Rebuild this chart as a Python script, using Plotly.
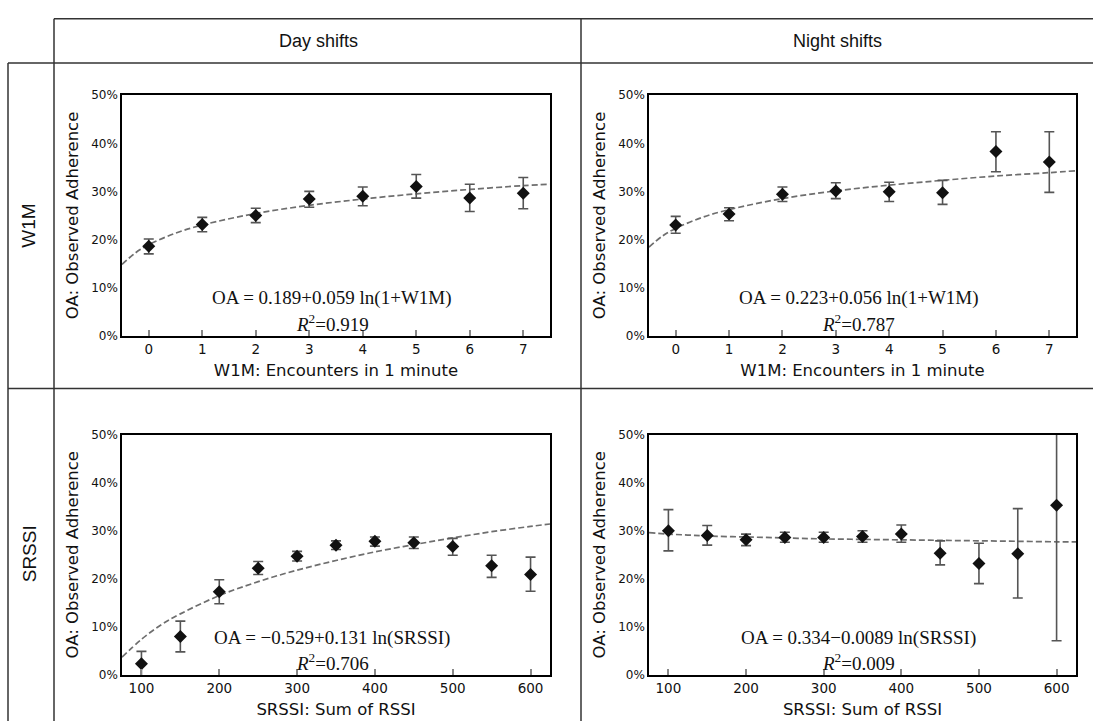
import plotly.graph_objects as go

# ---------------- data ----------------
w1m_x = [0, 1, 2, 3, 4, 5, 6, 7]
day_w1m_y = [0.186, 0.231, 0.250, 0.284, 0.290, 0.310, 0.286, 0.296]
day_w1m_hi = [0.201, 0.246, 0.265, 0.300, 0.309, 0.335, 0.315, 0.329]
day_w1m_lo = [0.170, 0.216, 0.235, 0.267, 0.270, 0.286, 0.258, 0.264]

night_w1m_y = [0.230, 0.253, 0.294, 0.301, 0.299, 0.297, 0.383, 0.361]
night_w1m_hi = [0.248, 0.266, 0.309, 0.318, 0.319, 0.323, 0.424, 0.424]
night_w1m_lo = [0.213, 0.239, 0.279, 0.285, 0.279, 0.273, 0.341, 0.298]

srssi_x = [100, 150, 200, 250, 300, 350, 400, 450, 500, 550, 600]
day_srssi_y = [0.023, 0.080, 0.173, 0.222, 0.247, 0.270, 0.278, 0.275, 0.267, 0.227, 0.209]
day_srssi_hi = [0.049, 0.112, 0.198, 0.236, 0.257, 0.279, 0.287, 0.287, 0.284, 0.249, 0.245]
day_srssi_lo = [-0.005, 0.048, 0.148, 0.209, 0.237, 0.261, 0.268, 0.263, 0.249, 0.203, 0.174]

night_srssi_y = [0.300, 0.290, 0.281, 0.286, 0.286, 0.288, 0.293, 0.253, 0.232, 0.252, 0.353]
night_srssi_hi = [0.344, 0.311, 0.293, 0.297, 0.297, 0.300, 0.312, 0.279, 0.274, 0.346, 0.640]
night_srssi_lo = [0.258, 0.270, 0.269, 0.276, 0.276, 0.276, 0.276, 0.229, 0.190, 0.160, 0.071]

# dashed fitted curves
fit_w1m_x = [-0.5, -0.25, 0, 0.5, 1, 2, 3, 4, 5, 6, 7, 7.5]
fit_day_w1m_y = [0.148, 0.172, 0.189, 0.213, 0.230, 0.254, 0.271, 0.284, 0.295, 0.304, 0.312, 0.315]
fit_night_w1m_y = [0.184, 0.207, 0.223, 0.246, 0.262, 0.285, 0.301, 0.313, 0.323, 0.332, 0.339, 0.343]

fit_srssi_x = [75, 100, 125, 150, 200, 250, 300, 350, 400, 450, 500, 550, 600, 625]
fit_day_srssi_y = [0.037, 0.074, 0.104, 0.127, 0.165, 0.194, 0.218, 0.238, 0.256, 0.271,
                   0.285, 0.298, 0.309, 0.314]
fit_night_srssi_y = [0.296, 0.293, 0.291, 0.289, 0.287, 0.285, 0.283, 0.282, 0.281, 0.280,
                     0.279, 0.278, 0.277, 0.277]

eq_texts = [
    "OA = 0.189+0.059 ln(1+W1M)",
    "OA = 0.223+0.056 ln(1+W1M)",
    "OA = \u22120.529+0.131 ln(SRSSI)",
    "OA = 0.334\u22120.0089 ln(SRSSI)",
]
r2_texts = ["0.919", "0.787", "0.706", "0.009"]

col_titles = ["Day shifts", "Night shifts"]
row_titles = ["W1M", "SRSSI"]
w1m_ticks = [0, 1, 2, 3, 4, 5, 6, 7]
srssi_ticks = [100, 200, 300, 400, 500, 600]
y_ticks = [0, 0.1, 0.2, 0.3, 0.4, 0.5]
y_tick_labels = ["0%", "10%", "20%", "30%", "40%", "50%"]
w1m_title = "W1M: Encounters in 1 minute"
srssi_title = "SRSSI: Sum of RSSI"
y_title = "OA: Observed Adherence"

# ---------------- layout geometry (pixels) ----------------
W, H = 1093, 728


def px(x):
    return x / W


def py(y):
    return 1 - y / H


panels = [
    # (axis index, x0, x1, y0(top), y1(bottom))
    (1, 122, 550, 90, 335),
    (2, 649, 1076, 90, 335),
    (3, 122, 550, 436, 681),
    (4, 649, 1076, 436, 681),
]

series = [
    (w1m_x, day_w1m_y, day_w1m_hi, day_w1m_lo, fit_w1m_x, fit_day_w1m_y),
    (w1m_x, night_w1m_y, night_w1m_hi, night_w1m_lo, fit_w1m_x, fit_night_w1m_y),
    (srssi_x, day_srssi_y, day_srssi_hi, day_srssi_lo, fit_srssi_x, fit_day_srssi_y),
    (srssi_x, night_srssi_y, night_srssi_hi, night_srssi_lo, fit_srssi_x, fit_night_srssi_y),
]

fig = go.Figure()
layout = dict(
    width=W, height=H, autosize=False,
    margin=dict(l=0, r=0, t=0, b=0),
    paper_bgcolor="white", plot_bgcolor="white",
    showlegend=False,
    font=dict(family="DejaVu Sans", color="#111"),
)

annotations = []
for (i, x0, x1, y0, y1), (xs, ys, hi, lo, fx, fy) in zip(panels, series):
    xa = "x" if i == 1 else f"x{i}"
    ya = "y" if i == 1 else f"y{i}"
    fig.add_trace(go.Scatter(
        x=fx, y=fy, mode="lines", xaxis=xa, yaxis=ya,
        line=dict(color="#6e6e6e", width=1.7, dash="6px,3px", shape="spline"),
        hoverinfo="skip"))
    fig.add_trace(go.Scatter(
        x=xs, y=ys, mode="markers", xaxis=xa, yaxis=ya,
        marker=dict(symbol="diamond", size=10, color="#111"),
        error_y=dict(type="data", symmetric=False,
                     array=[h - v for h, v in zip(hi, ys)],
                     arrayminus=[v - l for v, l in zip(ys, lo)],
                     color="#555", thickness=1.6, width=5)))
    is_w1m = i in (1, 2)
    xkey = "xaxis" if i == 1 else f"xaxis{i}"
    ykey = "yaxis" if i == 1 else f"yaxis{i}"
    layout[xkey] = dict(
        domain=[px(x0), px(x1)], anchor=ya,
        range=[-0.5, 7.5] if is_w1m else [75, 625],
        tickvals=w1m_ticks if is_w1m else srssi_ticks,
        ticks="inside", ticklen=6, tickwidth=1.5, tickcolor="#888",
        showgrid=False, zeroline=False,
        showline=True, mirror=True, linecolor="#000", linewidth=1.6,
        tickfont=dict(family="DejaVu Sans", size=13.5, color="#111"),
        title=dict(text=w1m_title if is_w1m else srssi_title,
                   font=dict(family="DejaVu Sans", size=16.5, color="#111"),
                   standoff=9),
    )
    layout[ykey] = dict(
        domain=[py(y1), py(y0)], anchor=xa,
        range=[0, 0.5], tickvals=y_ticks, ticktext=y_tick_labels,
        ticks="", showgrid=False, zeroline=False,
        showline=True, mirror=True, linecolor="#000", linewidth=1.6,
        tickfont=dict(family="DejaVu Sans", size=12, color="#111"),
        title=dict(text=y_title,
                   font=dict(family="DejaVu Sans", size=16.5, color="#111"),
                   standoff=8),
    )
    cx = (x0 + x1) / 2 - 4
    annotations.append(dict(
        x=px(cx), y=py(y1 - 38), xref="paper", yref="paper",
        xanchor="center", yanchor="middle",
        text=eq_texts[i - 1], showarrow=False,
        font=dict(family="Liberation Serif", size=19, color="#111")))
    annotations.append(dict(
        x=px(cx), y=py(y1 - 13), xref="paper", yref="paper",
        xanchor="center", yanchor="middle",
        text="<i>R</i><sup>2</sup>=" + r2_texts[i - 1], showarrow=False,
        font=dict(family="Liberation Serif", size=19, color="#111")))

# column / row headers
for t, cx in zip(col_titles, [318, 837]):
    annotations.append(dict(x=px(cx), y=py(35), xref="paper", yref="paper",
                            xanchor="center", yanchor="middle",
                            text=t, showarrow=False,
                            font=dict(family="Liberation Sans", size=18, color="#111")))
for t, cy in zip(row_titles, [223, 558]):
    annotations.append(dict(x=px(29), y=py(cy), xref="paper", yref="paper",
                            xanchor="center", yanchor="middle",
                            text=t, showarrow=False, textangle=-90,
                            font=dict(family="Liberation Sans", size=19, color="#111")))

# table grid lines
lc = dict(color="#333", width=1.5)
grid = [
    (54, 12, W, 12),
    (8, 57, W, 57),
    (8, 389, W, 389),
    (8, 57, 8, H),
    (54, 12, 54, H),
    (581, 12, 581, H),
]
shapes = [dict(type="line", xref="paper", yref="paper",
               x0=px(a), y0=py(b), x1=px(c), y1=py(d), line=lc)
          for a, b, c, d in grid]

layout["annotations"] = annotations
layout["shapes"] = shapes
fig.update_layout(**layout)

fig.write_html("out.html", config={"displayModeBar": False},
               post_script="document.body.style.margin='0px';"
                           "document.body.style.overflow='hidden';")
